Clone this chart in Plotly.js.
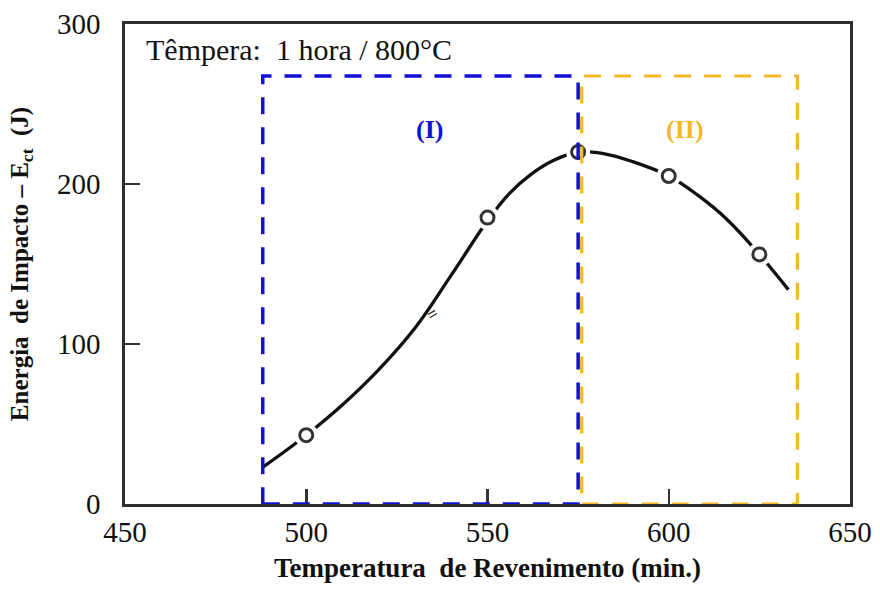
<!DOCTYPE html>
<html>
<head>
<meta charset="utf-8">
<script src="https://cdn.plot.ly/plotly-3.0.1.min.js"></script>
<style>
  html, body { margin: 0; padding: 0; background: #fff; }
  #chart { width: 880px; height: 593px; }
</style>
</head>
<body>
<div id="chart"></div>
<script>
// Impact energy vs. tempering temperature (quench: 1 h / 800 °C)

// Measured points
const tempMeasured = [500, 550, 575, 600, 625];
const energyMeasured = [43, 179, 220, 205, 156];

// Hand-drawn trend curve, traced point by point
const tempCurve = [488, 500, 510, 520, 530, 540, 550, 556, 562, 568, 575, 582, 590, 600, 608, 616, 625, 633];
const energyCurve = [23, 43, 62, 84, 110, 143, 177, 194, 206, 214.5, 220, 219, 214, 205, 193, 178, 156, 134];

// Temperature ranges of the two regions and the height of their frames
const regionI = [488, 575];
const regionII = [576, 635.5];
const regionTop = 267.5;

// Axis ticks
const xTicks = [450, 500, 550, 600, 650];
const yTicks = [0, 100, 200, 300];

const serif = '"Liberation Serif", "Times New Roman", serif';
const BLUE = '#1010d8';
const GOLD = '#f6b824';

const traces = [
  {
    x: tempCurve, y: energyCurve, type: 'scatter', mode: 'lines',
    line: { color: '#111', width: 3.3, shape: 'spline', smoothing: 1.1 },
    hoverinfo: 'skip'
  },
  {
    // white halo that opens a gap in the curve around each point
    x: tempMeasured, y: energyMeasured, type: 'scatter', mode: 'markers',
    marker: { symbol: 'circle', size: 24, color: '#fff', line: { width: 0 } },
    hoverinfo: 'skip'
  },
  {
    x: tempMeasured, y: energyMeasured, type: 'scatter', mode: 'markers',
    marker: { symbol: 'circle-open', size: 13, color: '#333', line: { width: 3, color: '#333' } }
  }
];

const dash = '17px,13px';

const layout = {
  width: 880, height: 593,
  margin: { l: 125, r: 30, t: 24, b: 89 },
  paper_bgcolor: '#fff', plot_bgcolor: '#fff',
  showlegend: false,
  font: { family: serif, color: '#111' },
  xaxis: {
    range: [450, 650], tickvals: xTicks, ticktext: xTicks.map(String),
    showgrid: false, zeroline: false,
    showline: true, mirror: true, linecolor: '#2e2e2e', linewidth: 2.8,
    ticks: 'inside', ticklen: 15, tickwidth: 2.5, tickcolor: '#333',
    ticklabelstandoff: 0,
    tickfont: { family: serif, size: 29, color: '#111' },
    title: {
      text: '<b>Temperatura  de Revenimento (min.)</b>',
      font: { family: serif, size: 27, color: '#111' }, standoff: 12
    }
  },
  yaxis: {
    range: [0, 300], tickvals: yTicks, ticktext: yTicks.map(String),
    showgrid: false, zeroline: false,
    showline: true, mirror: true, linecolor: '#2e2e2e', linewidth: 2.8,
    ticks: 'inside', ticklen: 15, tickwidth: 2.5, tickcolor: '#333',
    ticklabelstandoff: 16,
    tickfont: { family: serif, size: 29, color: '#111' },
    title: {
      text: '<b>Energia  de Impacto – E<sub>ct</sub>  (J)</b>',
      font: { family: serif, size: 25, color: '#111' }, standoff: 22
    }
  },
  shapes: [
    {
      type: 'rect', xref: 'x', yref: 'y',
      x0: regionI[0], x1: regionI[1], y0: 0, y1: regionTop,
      line: { color: BLUE, width: 3.5, dash: dash }, layer: 'above'
    },
    {
      type: 'rect', xref: 'x', yref: 'y',
      x0: regionII[0], x1: regionII[1], y0: 0, y1: regionTop,
      line: { color: GOLD, width: 3.2, dash: dash }, layer: 'above'
    }
  ],
  annotations: [
    {
      x: 455.2, y: 284, xref: 'x', yref: 'y', xanchor: 'left', yanchor: 'middle',
      text: 'Têmpera:  1 hora / 800°C', showarrow: false,
      font: { family: serif, size: 30, color: '#111' }
    },
    {
      x: 534, y: 234, xref: 'x', yref: 'y',
      text: '<b>(I)</b>', showarrow: false,
      font: { family: serif, size: 26, color: BLUE }
    },
    {
      x: 604.5, y: 234, xref: 'x', yref: 'y',
      text: '<b>(II)</b>', showarrow: false,
      font: { family: serif, size: 26, color: GOLD }
    },
    {
      // small tick-like stroke pair drawn across the curve
      x: 534.8, y: 119, xref: 'x', yref: 'y',
      text: '<b>=</b>', showarrow: false, textangle: -30,
      font: { family: serif, size: 18, color: '#333' }
    }
  ]
};

Plotly.newPlot('chart', traces, layout, { displayModeBar: false, staticPlot: true });
</script>
</body>
</html>
